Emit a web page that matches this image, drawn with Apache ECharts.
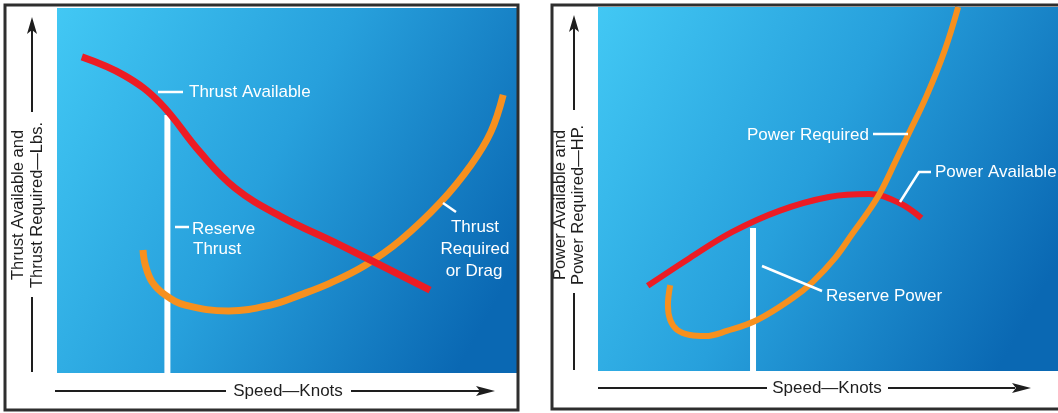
<!DOCTYPE html>
<html><head><meta charset="utf-8">
<script src="https://cdn.jsdelivr.net/npm/echarts@6/dist/echarts.min.js"></script>
<style>html,body{margin:0;padding:0;background:#fff;}#c{width:1058px;height:413px;}</style>
</head><body><div id="c"></div>
<script>
// ---- data (speed units 0..100, thrust/power units 0..100) ----
const thrustAvailable = [[5.4,86.6],[14.8,81.4],[22.4,74.0],[31.1,60.5],[38.7,50.7],[48.5,43.0],[61.5,35.1],[81.1,22.7]];
const thrustRequired = [[18.7,33.7],[19.2,29.6],[20.7,24.9],[23.5,21.4],[27.9,18.6],[37.3,17.0],[46.4,18.6],[52.9,21.4],[59.5,24.7],[67.1,29.6],[74.7,36.4],[83.4,46.8],[90.0,57.0],[94.3,66.0],[97.0,76.2]];
const reserveThrust = [[24.0,70.7],[24.0,0]];
const powerAvailable = [[10.8,23.4],[19.9,31.0],[29.2,38.2],[39.4,44.0],[50.2,47.8],[58.9,48.6],[65.4,46.2],[70.3,42.0]];
const powerRequired = [[15.7,23.6],[15.2,18.1],[15.7,14.0],[17.2,11.3],[20.0,9.9],[23.3,9.6],[28.0,11.0],[34.6,14.0],[42.4,20.1],[46.7,24.5],[51.5,31.0],[55.4,37.9],[58.7,43.7],[61.3,48.9],[64.6,57.4],[67.2,64.3],[71.5,75.8],[75.4,88.2],[78.3,100]];
const reservePower = [[33.7,39.3],[33.7,0]];
const yTitlesLeft = ['Thrust Available and','Thrust Required\u2014Lbs.'];
const yTitlesRight = ['Power Available and','Power Required\u2014HP.'];
const xTitle = 'Speed\u2014Knots';

const RED = '#ec1c24', ORANGE = '#f7901e', INK = '#1e1e1e';
const FONT = '"Liberation Sans", Arial, Helvetica, sans-serif';
const bg = {type:'linear',x:0,y:0,x2:1,y2:0.7,colorStops:[{offset:0,color:'#42c8f4'},{offset:0.5,color:'#27a0dc'},{offset:1,color:'#0a68b3'}]};

const chart = echarts.init(document.getElementById('c'), null, {renderer:'canvas'});

function axisX(i){return {type:'value',gridIndex:i,min:0,max:100,show:false};}
function axisY(i){return {type:'value',gridIndex:i,min:0,max:100,show:false};}
function curve(data, color, i, w){
  return {type:'line',xAxisIndex:i,yAxisIndex:i,data:data,smooth:0.4,symbol:'none',
    lineStyle:{color:color,width:w,cap:'butt'},silent:true,z:3};
}
function wline(data,i){
  return {type:'line',xAxisIndex:i,yAxisIndex:i,data:data,symbol:'none',
    lineStyle:{color:'#ffffff',width:6},silent:true,z:2};
}
function txt(x,y,s,opt){
  return Object.assign({type:'text',x:x,y:y,style:Object.assign({text:s,fill:'#fff',font:'17px '+FONT,textAlign:'left',textVerticalAlign:'middle'},opt||{}),z:10});
}
function seg(x1,y1,x2,y2,col,w){
  return {type:'line',shape:{x1:x1,y1:y1,x2:x2,y2:y2},style:{stroke:col,lineWidth:w||2},z:10};
}
function poly(points,col,w){
  return {type:'polyline',shape:{points:points},style:{stroke:col,lineWidth:w||2,fill:null},z:10};
}
function upHead(x,y){return {type:'polygon',shape:{points:[[x,y],[x-5,y+17],[x,y+13],[x+5,y+17]]},style:{fill:INK},z:10};}
function rightHead(x,y){return {type:'polygon',shape:{points:[[x,y],[x-19,y-5],[x-15,y],[x-19,y+5]]},style:{fill:INK},z:10};}
function rotTitle(x,y,s){
  return {type:'text',x:x,y:y,rotation:Math.PI/2,style:{text:s,fill:INK,font:'16.5px '+FONT,textAlign:'center',textVerticalAlign:'middle'},z:10};
}

const graphic = [
  // panel borders
  {type:'rect',shape:{x:5,y:5,width:513,height:405},style:{fill:null,stroke:'#2e2e2e',lineWidth:3},z:20},
  {type:'rect',shape:{x:552,y:5,width:520,height:404},style:{fill:null,stroke:'#2e2e2e',lineWidth:3},z:20},
  // left y axis
  seg(32,112,32,30,INK,2), upHead(32,17), seg(32,297,32,372,INK,2),
  rotTitle(18,205,yTitlesLeft[0]), rotTitle(37,205,yTitlesLeft[1]),
  // left x axis
  seg(55,391,226,391,INK,2), seg(351,391,480,391,INK,2), rightHead(495,391),
  txt(288,391,xTitle,{fill:INK,textAlign:'center'}),
  // right y axis
  seg(574,110,574,28,INK,2), upHead(574,15), seg(574,293,574,370,INK,2),
  rotTitle(560,205,yTitlesRight[0]), rotTitle(578,205,yTitlesRight[1]),
  // right x axis
  seg(598,388,767,388,INK,2), seg(888,388,1015,388,INK,2), rightHead(1031,388),
  txt(827,388,xTitle,{fill:INK,textAlign:'center'}),
  // left annotations
  seg(158,92,183,92,'#fff',2.5), txt(189,92,'Thrust Available'),
  seg(175,227,189,227,'#fff',2.5), txt(192,229,'Reserve'), txt(193,249,'Thrust'),
  seg(443,203,456,212,'#fff',2.5),
  txt(475,227,'Thrust',{textAlign:'center'}), txt(475,249,'Required',{textAlign:'center'}), txt(474,271,'or Drag',{textAlign:'center'}),
  // right annotations
  seg(873,134,908,134,'#fff',2.5), txt(747,135,'Power Required'),
  poly([[931,172],[919,172],[900,202]],'#fff',2.5), txt(935,172,'Power Available'),
  seg(762,266,822,291,'#fff',2.5), txt(826,296,'Reserve Power')
];

chart.setOption({
  animation:false,
  backgroundColor:'#ffffff',
  grid:[
    {left:57,top:8,width:460,height:365,show:true,backgroundColor:bg,borderWidth:0},
    {left:598,top:7,width:462,height:364,show:true,backgroundColor:bg,borderWidth:0}
  ],
  xAxis:[axisX(0),axisX(1)],
  yAxis:[axisY(0),axisY(1)],
  series:[
    wline(reserveThrust,0),
    curve(thrustRequired,ORANGE,0,7),
    curve(thrustAvailable,RED,0,7),
    wline(reservePower,1),
    curve(powerAvailable,RED,1,6),
    curve(powerRequired,ORANGE,1,6)
  ],
  graphic:graphic
});
</script>
</body></html>
